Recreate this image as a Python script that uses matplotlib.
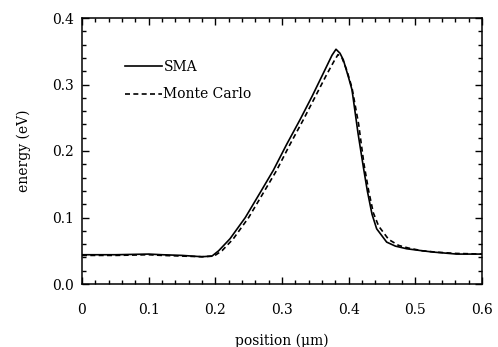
import matplotlib
matplotlib.use("Agg")
import matplotlib.pyplot as plt
from matplotlib.ticker import MultipleLocator

# === Kurven ===
sma_x = [0.0, 0.05, 0.1, 0.12, 0.15, 0.18, 0.195, 0.205, 0.222, 0.245, 0.267,
         0.287, 0.307, 0.327, 0.345, 0.362, 0.375, 0.381, 0.387, 0.392, 0.4,
         0.405, 0.414, 0.422, 0.428, 0.435, 0.442, 0.457, 0.47, 0.487, 0.51,
         0.527, 0.562, 0.6]
sma_y = [0.044, 0.044, 0.045, 0.044, 0.043, 0.041, 0.042, 0.05, 0.068, 0.1, 0.137,
         0.171, 0.21, 0.247, 0.282, 0.317, 0.344, 0.353, 0.347, 0.337, 0.31,
         0.292, 0.227, 0.176, 0.14, 0.105, 0.083, 0.063, 0.057, 0.053, 0.05,
         0.048, 0.045, 0.045]

mc_x = [0.0, 0.05, 0.1, 0.12, 0.15, 0.18, 0.198, 0.21, 0.227, 0.25, 0.272,
        0.292, 0.312, 0.332, 0.35, 0.367, 0.378, 0.384, 0.39, 0.397, 0.405,
        0.415, 0.423, 0.43, 0.437, 0.445, 0.46, 0.475, 0.49, 0.51, 0.53, 0.56, 0.6]
mc_y = [0.043, 0.043, 0.044, 0.043, 0.042, 0.041, 0.042, 0.05, 0.068, 0.1,
        0.137, 0.171, 0.21, 0.247, 0.282, 0.315, 0.335, 0.345, 0.34, 0.322,
        0.295, 0.24, 0.18, 0.14, 0.107, 0.087, 0.067, 0.058, 0.054, 0.05,
        0.048, 0.046, 0.045]

labels = ["SMA", "Monte Carlo"]

plt.rcParams["font.family"] = ["DejaVu Serif"]

fig = plt.figure(figsize=(4.98, 3.47), dpi=100)
ax = fig.add_axes([82 / 498, 1 - 284 / 347, 400 / 498, 266 / 347])

ax.plot(sma_x, sma_y, color="black", lw=1.2, label=labels[0])
ax.plot(mc_x, mc_y, color="black", lw=1.2, linestyle=(0, (3, 2)), label=labels[1])

ax.set_xlim(0, 0.6)
ax.set_ylim(0, 0.4)
ax.xaxis.set_minor_locator(MultipleLocator(0.02))
ax.yaxis.set_minor_locator(MultipleLocator(0.02))
ax.set_xticks([0, 0.1, 0.2, 0.3, 0.4, 0.5, 0.6])
ax.set_xticklabels(["0", "0.1", "0.2", "0.3", "0.4", "0.5", "0.6"])
ax.set_yticks([0, 0.1, 0.2, 0.3, 0.4])
ax.set_yticklabels(["0.0", "0.1", "0.2", "0.3", "0.4"])

ax.tick_params(which="both", direction="in", top=True, right=True, width=1.0,
               labelsize=10)
ax.tick_params(axis="x", which="major", length=5, pad=13.5)
ax.tick_params(axis="y", which="major", length=5, pad=6)
ax.tick_params(which="minor", length=3)
for s in ax.spines.values():
    s.set_linewidth(1.1)

ax.set_xlabel("position (\u03bcm)", fontsize=10, labelpad=12)
ax.set_ylabel("energy (eV)", fontsize=10, labelpad=15)

leg = ax.legend(loc="upper left", bbox_to_anchor=(0.0925, 0.862), frameon=False,
                handlelength=2.73, handletextpad=0.07, labelspacing=0.95,
                fontsize=10, borderaxespad=0)

fig.savefig("out.png", dpi=100)
